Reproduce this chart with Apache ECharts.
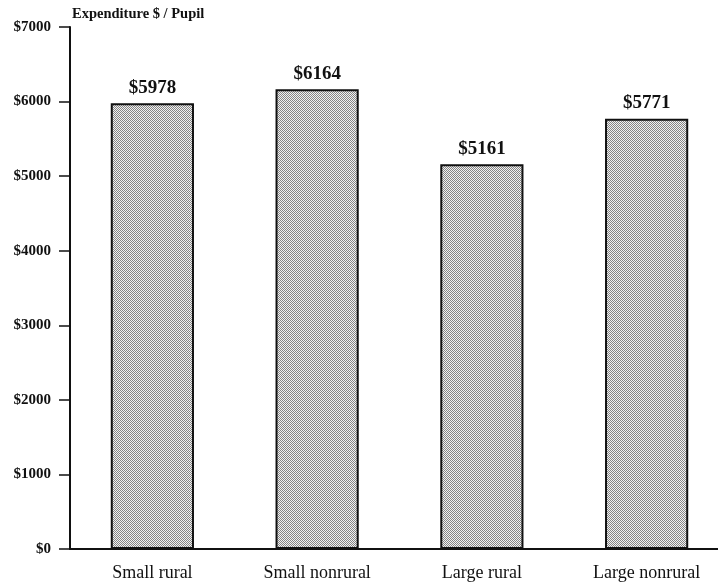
<!DOCTYPE html>
<html>
<head>
<meta charset="utf-8">
<script src="https://cdn.jsdelivr.net/npm/echarts@6/dist/echarts.min.js"></script>
<style>
  html, body { margin: 0; padding: 0; background: #fff; overflow: hidden; }
  #chart { width: 729px; height: 582px; }
</style>
</head>
<body>
<div id="chart"></div>
<script>
// Per-pupil expenditure by district type
const categories = ['Small rural', 'Small nonrural', 'Large rural', 'Large nonrural'];
const expenditure = [5978, 6164, 5161, 5771];
const yTicks = [0, 1000, 2000, 3000, 4000, 5000, 6000, 7000];

// Halftone-style stipple fill for the bars
function makeStipple() {
  const c = document.createElement('canvas');
  c.width = 4; c.height = 4;
  const ctx = c.getContext('2d');
  ctx.fillStyle = '#f2f2f2';
  ctx.fillRect(0, 0, 4, 4);
  ctx.fillStyle = '#858585';
  for (let y = 0; y < 4; y++) {
    for (let x = 0; x < 4; x++) {
      if ((x + y) % 2 === 0) ctx.fillRect(x, y, 1, 1);
    }
  }
  return c;
}

const font = '"Liberation Serif", "DejaVu Serif", serif';
const chart = echarts.init(document.getElementById('chart'), null, { renderer: 'canvas' });

chart.setOption({
  animation: false,
  backgroundColor: '#ffffff',
  grid: { left: 70, top: 27, right: 0, bottom: 31, containLabel: false },
  title: {
    text: 'Expenditure $ / Pupil',
    left: 67, top: 2,
    textStyle: { fontFamily: font, fontSize: 14.5, fontWeight: 'bold', color: '#111' }
  },
  xAxis: {
    type: 'category',
    data: categories,
    axisLine: { show: true, lineStyle: { color: '#111', width: 2 } },
    axisTick: { show: false },
    axisLabel: { fontFamily: font, fontSize: 18, color: '#111', margin: 15 }
  },
  yAxis: {
    type: 'value',
    min: 0, max: 7000, interval: 1000,
    axisLine: { show: true, lineStyle: { color: '#111', width: 2 } },
    axisTick: { show: true, length: 11, lineStyle: { color: '#111', width: 1.5 } },
    splitLine: { show: false },
    axisLabel: {
      fontFamily: font, fontSize: 15, fontWeight: 'bold', color: '#111', margin: 19,
      formatter: v => yTicks.includes(v) ? '$' + v : ''
    }
  },
  series: [{
    type: 'bar',
    data: expenditure,
    barWidth: '50.5%',
    itemStyle: {
      color: { image: makeStipple(), repeat: 'repeat' },
      borderColor: '#111',
      borderWidth: 2
    },
    label: {
      show: true,
      position: 'top',
      distance: 6,
      fontFamily: font, fontSize: 19, fontWeight: 'bold', color: '#111',
      formatter: p => '$' + p.value
    }
  }]
});
</script>
</body>
</html>
